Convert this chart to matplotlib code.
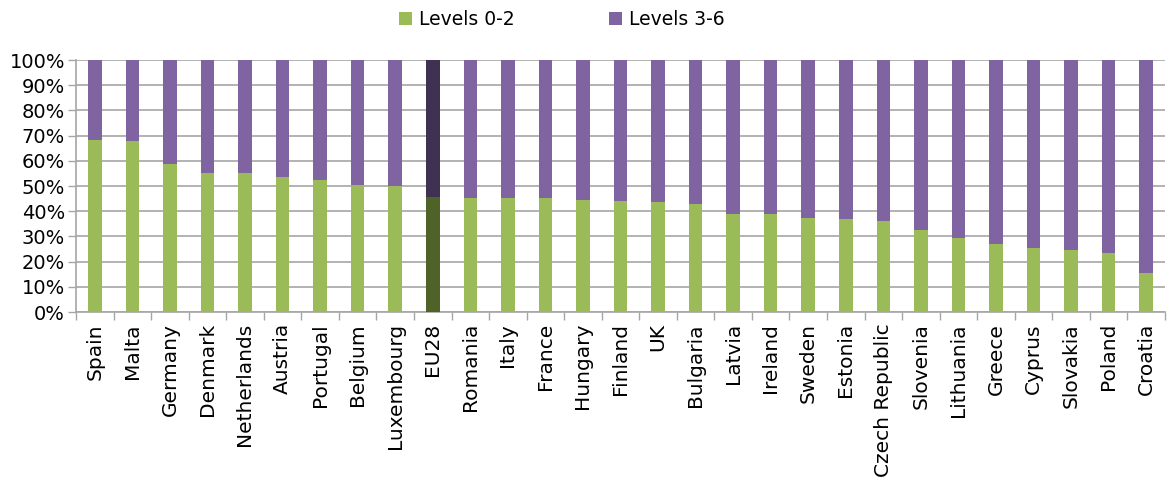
import numpy as np
import matplotlib.pyplot as plt
from matplotlib.ticker import FuncFormatter, MultipleLocator

countries = ['Spain', 'Malta', 'Germany', 'Denmark', 'Netherlands', 'Austria',
             'Portugal', 'Belgium', 'Luxembourg', 'EU28', 'Romania', 'Italy',
             'France', 'Hungary', 'Finland', 'UK', 'Bulgaria', 'Latvia',
             'Ireland', 'Sweden', 'Estonia', 'Czech Republic', 'Slovenia',
             'Lithuania', 'Greece', 'Cyprus', 'Slovakia', 'Poland', 'Croatia']
low = [68.2, 67.7, 58.7, 55.2, 55.2, 53.4, 52.3, 50.5, 50.1, 45.7, 45.2, 45.2,
       45.2, 44.6, 44.2, 43.7, 42.8, 38.9, 38.9, 37.5, 37.1, 36.0, 32.7, 29.4,
       27.0, 25.2, 24.6, 23.6, 15.5]
high = [100 - v for v in low]

green, purple = '#9BBB59', '#8064A2'
green_dark, purple_dark = '#4F6228', '#3F3151'

x = np.arange(len(countries))
c_low = [green_dark if c == 'EU28' else green for c in countries]
c_high = [purple_dark if c == 'EU28' else purple for c in countries]

fig = plt.figure(figsize=(11.72, 4.83), dpi=100)
ax = fig.add_axes([76 / 1172, 1 - 312 / 483, 1089 / 1172, 252 / 483])

ax.bar(x, low, width=0.36, color=c_low, label='Levels 0-2', zorder=3)
ax.bar(x, high, width=0.36, bottom=low, color=c_high, label='Levels 3-6', zorder=3)

ax.set_xlim(-0.5, len(countries) - 0.5)
ax.set_ylim(0, 100)
ax.yaxis.set_major_locator(MultipleLocator(10))
ax.yaxis.set_major_formatter(FuncFormatter(lambda v, p: f'{v:.0f}%'))
ax.grid(axis='y', color='#A6A6A6', linewidth=1.2, zorder=0)

ax.set_xticks(x)
ax.set_xticklabels(countries, rotation=90, fontsize=14.5)
ax.set_xticks(np.arange(-0.5, len(countries)), minor=True)
ax.tick_params(axis='x', which='major', length=0, pad=8)
ax.tick_params(axis='x', which='minor', length=6, color='#A6A6A6', width=1)
ax.tick_params(axis='y', length=6, color='#A6A6A6', width=1, labelsize=14, pad=2)

for s in ['top', 'right']:
    ax.spines[s].set_visible(False)
for s in ['left', 'bottom']:
    ax.spines[s].set_color('#A6A6A6')
    ax.spines[s].set_linewidth(1.2)

ax.legend(loc='upper center', bbox_to_anchor=(0.446, 1.265), ncol=2, frameon=False,
          fontsize=13.5, handlelength=0.7, handleheight=0.7, handletextpad=0.4,
          columnspacing=5.0)

fig.savefig('out.png', dpi=100)
